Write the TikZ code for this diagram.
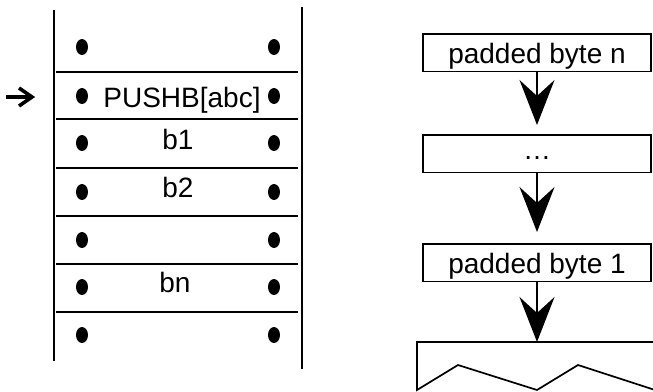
\documentclass[tikz,border=0pt]{standalone}
\usepackage{fontspec}
\setmainfont{Liberation Sans}
\usetikzlibrary{arrows.meta}
\begin{document}
\begin{tikzpicture}[x=1pt,y=-1pt,
  line width=1.7pt,
  lbl/.style={font=\fontsize{28}{30}\selectfont, inner sep=0pt, anchor=base},
  box/.style={draw, line width=1.7pt, inner sep=0pt, minimum width=228pt,
    text height=29.5pt, text depth=8pt, anchor=north,
    font=\fontsize{28}{30}\selectfont},
  conn/.style={line width=1.7pt, -{Stealth[length=45pt,width=35pt,inset=16pt]}},
  dot/.style={fill=black}
]
\useasboundingbox (0,0) rectangle (653,391);
% stack
\draw (54,10) -- (54,361);
\draw (302,7) -- (302,369);
\foreach \y in {72,119,168,216,264,312} \draw (56,\y) -- (298,\y);
\foreach \y in {47,96,143,192,240,287,335} {
  \fill[dot] (82,\y) ellipse [x radius=6pt, y radius=8pt];
  \fill[dot] (274,\y) ellipse [x radius=6pt, y radius=8pt];
}
\node[lbl] (push) at (182,107) {PUSHB[abc]};
\node[lbl] (bone) at (178,149) {b1};
\node[lbl] (btwo) at (178,197) {b2};
\node[lbl] (bn) at (175,292) {bn};
% pointer arrow
\coordinate (ps) at (6,97);
\coordinate (pe) at (32,97);
\draw[line width=3.6pt] (ps) -- (pe);
\draw[line width=3.6pt, line join=miter] (19,88) -- (pe) -- (19,106);
% right column
\node[box] (p1) at (537,33) {padded byte n};
\node[box, text height=25pt, text depth=12.5pt] (p2) at (537,134) {\dots};
\node[box] (p3) at (537,243) {padded byte 1};
\coordinate (base) at (537,342);
\draw[conn, shorten >=9pt] (p1.south) -- (p2.north);
\draw[conn, shorten >=11pt] (p2.south) -- (p3.north);
\draw[conn] (p3.south) -- (base);
\draw (655,342) -- (417,342) -- (417,390) -- (458,365) -- (537,390) -- (578,365) -- (655,390);
\end{tikzpicture}
\end{document}
